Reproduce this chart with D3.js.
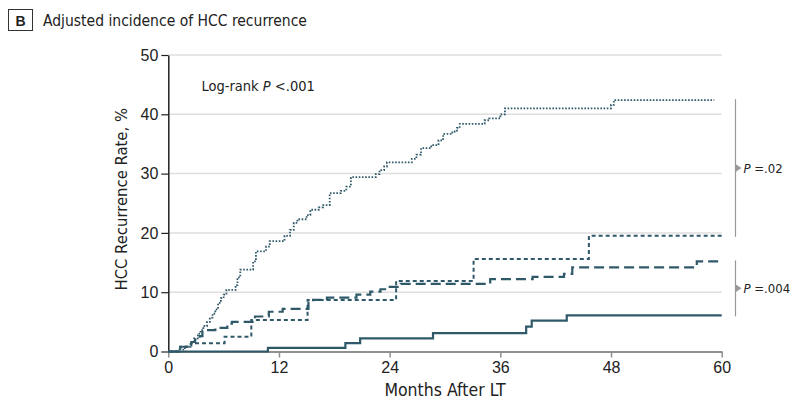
<!DOCTYPE html>
<html>
<head>
<meta charset="utf-8">
<script src="https://cdn.jsdelivr.net/npm/d3@7/dist/d3.min.js"></script>
<style>
  body { margin: 0; background: #fff; }
  svg { display: block; font-family: "Liberation Sans Narrow", "DejaVu Sans Condensed", "Liberation Sans", sans-serif; }
  .axis text { font-size: 16px; fill: #222; }
</style>
</head>
<body>
<svg id="viz"></svg>
<script>
// ----------------------------------------------------------------------------------------------------------------
// DATA  (months after LT, recurrence %)

var xTicks = [0, 12, 24, 36, 48, 60];
var yTicks = [0, 10, 20, 30, 40, 50];

var dottedSeries = [
  [0, 0], [1.2, 0.3], [1.8, 0.8], [2.4, 1.5], [2.8, 2.2], [3.2, 3.0], [3.5, 3.6], [3.8, 4.3], [4.2, 5.0],
  [4.5, 5.7], [4.8, 6.4], [5.1, 7.1], [5.4, 8.2], [5.7, 9.0], [6.0, 9.6], [6.3, 10.4], [7.3, 11.2],
  [7.5, 12.5], [7.8, 13.8], [9.2, 15.2], [9.5, 16.9], [10.6, 17.7], [11.0, 18.6], [12.6, 19.5],
  [13.2, 20.5], [13.6, 21.7], [14.0, 22.3], [15.0, 23.0], [15.4, 23.9], [16.3, 24.3], [16.8, 24.7],
  [17.5, 26.7], [18.7, 27.1], [19.3, 27.8], [19.8, 29.4], [22.5, 29.9], [22.9, 30.6], [23.4, 31.2],
  [23.7, 31.9], [26.4, 32.5], [26.9, 33.2], [27.4, 34.3], [28.5, 34.8], [29.3, 35.6], [29.8, 36.7],
  [30.8, 37.1], [31.3, 37.7], [31.6, 38.4], [34.3, 39.0], [34.8, 39.3], [36.0, 40.0], [36.5, 41.0],
  [48.0, 41.6], [48.3, 42.4], [59.2, 42.4]
];

var shortDashSeries = [
  [0, 0], [1.3, 0.8], [2.5, 1.4], [6.1, 2.5], [9.0, 5.3], [15.1, 8.7], [24.7, 11.9], [33.1, 15.6],
  [45.6, 19.5], [60, 19.5]
];

var longDashSeries = [
  [0, 0], [1.3, 0.8], [2.5, 1.6], [2.9, 2.0], [3.4, 2.6], [3.7, 3.6], [5.1, 4.0], [6.4, 4.7], [6.9, 5.0],
  [9.4, 5.9], [10.9, 6.7], [12.4, 7.2], [15.2, 8.4], [15.7, 8.7], [17.2, 9.1], [20.4, 9.6], [21.9, 10.1],
  [23.0, 10.5], [23.5, 10.9], [25.2, 11.4], [34.9, 12.2], [39.5, 12.6], [42.9, 13.1], [43.8, 14.2],
  [57.3, 15.2], [59.8, 15.2]
];

var solidSeries = [
  [0, 0], [10.8, 0.6], [19.2, 1.4], [20.8, 2.2], [28.7, 3.1], [38.8, 4.2], [39.4, 5.2], [43.2, 6.1], [60, 6.1]
];

var pComparisons = [
  {top: 42.4, bottom: 19.5, label: ".02"},
  {top: 15.2, bottom: 6.1, label: ".004"}
];

// ----------------------------------------------------------------------------------------------------------------
// INITIAL SETUP

var w = 793;
var h = 400;
var lineColor = "#2f5969";
var viz = d3.select("#viz").attr("width", w).attr("height", h);

var x = d3.scaleLinear().domain([0, 60]).range([168.3, 721.7]);
var y = d3.scaleLinear().domain([0, 50]).range([351.5, 55]);

// ----------------------------------------------------------------------------------------------------------------
// TITLE

viz.append("rect")
  .attr("x", 8.5).attr("y", 9.5).attr("width", 24).attr("height", 21)
  .attr("fill", "none").attr("stroke", "#333").attr("stroke-width", 1);

viz.append("text")
  .attr("x", 20.5).attr("y", 25.5)
  .attr("text-anchor", "middle")
  .attr("font-family", "Liberation Sans, sans-serif")
  .attr("font-weight", "bold").attr("font-size", 14).attr("fill", "#222")
  .text("B");

viz.append("text")
  .attr("x", 43).attr("y", 25.5)
  .attr("font-size", 15.5).attr("fill", "#222")
  .text("Adjusted incidence of HCC recurrence");

// ----------------------------------------------------------------------------------------------------------------
// GRID + AXES

viz.append("g").selectAll("line")
  .data(yTicks.filter(function(d) { return d > 0; }))
  .enter().append("line")
  .attr("x1", x(0)).attr("x2", x(60))
  .attr("y1", function(d) { return y(d); })
  .attr("y2", function(d) { return y(d); })
  .attr("stroke", "#dedede").attr("stroke-width", 1.5);

var xAxis = viz.append("g")
  .attr("class", "axis")
  .attr("transform", "translate(0," + y(0) + ")")
  .call(d3.axisBottom(x).tickValues(xTicks).tickSize(6).tickSizeOuter(0).tickPadding(4));
xAxis.select(".domain").attr("stroke", "#8f8f8f").attr("stroke-width", 2);
xAxis.selectAll(".tick line").attr("stroke", "#8f8f8f").attr("stroke-width", 1.5);

var yAxis = viz.append("g")
  .attr("class", "axis")
  .attr("transform", "translate(" + x(0) + ",0)")
  .call(d3.axisLeft(y).tickValues(yTicks).tickSize(7).tickSizeOuter(0).tickPadding(3));
yAxis.select(".domain").attr("stroke", "#222").attr("stroke-width", 1.5);
yAxis.selectAll(".tick line").attr("stroke", "#222").attr("stroke-width", 1.2);

viz.append("text")
  .attr("x", (x(0) + x(60)) / 2).attr("y", 396)
  .attr("text-anchor", "middle").attr("font-size", 17.5).attr("fill", "#222")
  .text("Months After LT");

viz.append("text")
  .attr("transform", "translate(127," + (y(25) - 4) + ") rotate(-90)")
  .attr("text-anchor", "middle").attr("font-size", 16.5).attr("fill", "#222")
  .text("HCC Recurrence Rate, %");

// ----------------------------------------------------------------------------------------------------------------
// CURVES

var stepLine = d3.line()
  .x(function(d) { return x(d[0]); })
  .y(function(d) { return y(d[1]); })
  .curve(d3.curveStepAfter);

var curves = [
  {data: solidSeries, dash: null, width: 2.2},
  {data: longDashSeries, dash: "10,5", width: 2.2},
  {data: shortDashSeries, dash: "4,3", width: 2},
  {data: dottedSeries, dash: "1.6,1.6", width: 1.8}
];

viz.append("g").selectAll("path")
  .data(curves)
  .enter().append("path")
  .attr("d", function(d) { return stepLine(d.data); })
  .attr("fill", "none")
  .attr("stroke", lineColor)
  .attr("stroke-width", function(d) { return d.width; })
  .attr("stroke-dasharray", function(d) { return d.dash; });

// ----------------------------------------------------------------------------------------------------------------
// ANNOTATIONS

var logRank = viz.append("text")
  .attr("x", 201.5).attr("y", 91)
  .attr("font-size", 14.5).attr("fill", "#222");
logRank.append("tspan").text("Log-rank ");
logRank.append("tspan").attr("font-style", "italic").text("P");
logRank.append("tspan").text(" <.001");

var bx = 735.5;
var brackets = viz.append("g").selectAll("g")
  .data(pComparisons)
  .enter().append("g");

brackets.append("line")
  .attr("x1", bx).attr("x2", bx)
  .attr("y1", function(d) { return y(d.top) - 1; })
  .attr("y2", function(d) { return y(d.bottom) + 1; })
  .attr("stroke", "#999").attr("stroke-width", 1.2);

brackets.append("path")
  .attr("d", function(d) {
    var m = (y(d.top) + y(d.bottom)) / 2;
    return "M" + bx + "," + (m - 4) + "L" + (bx + 6) + "," + m + "L" + bx + "," + (m + 4) + "Z";
  })
  .attr("fill", "#999");

// keep the text inside the 793px frame
var pText = brackets.append("text")
  .attr("x", bx + 8)
  .attr("y", function(d) { return (y(d.top) + y(d.bottom)) / 2; })
  .attr("dy", "0.35em")
  .attr("font-size", 13).attr("fill", "#222");
pText.append("tspan").attr("font-style", "italic").text("P");
pText.append("tspan").text(function(d) { return " =" + d.label; });
</script>
</body>
</html>
